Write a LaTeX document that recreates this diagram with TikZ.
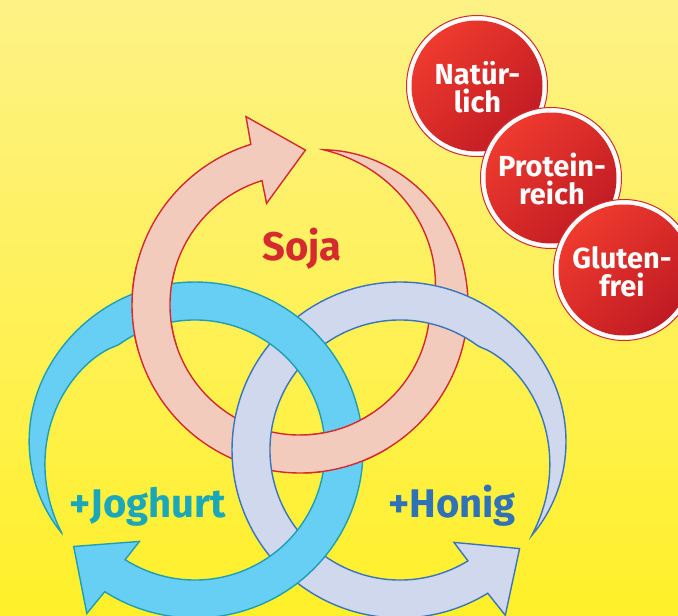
\documentclass[tikz,border=0pt]{standalone}
\usepackage{fontspec}
\setmainfont{Fira Sans}
\definecolor{bgtop}{HTML}{FEF286}
\definecolor{bgbot}{HTML}{FFF02A}
\definecolor{pinkfill}{HTML}{F3CBBC}
\definecolor{pinkline}{HTML}{D42A2E}
\definecolor{bluefill}{HTML}{67CFF4}
\definecolor{blueline}{HTML}{1E9FB5}
\definecolor{greyfill}{HTML}{CFD8EC}
\definecolor{greyline}{HTML}{3A74BC}
\definecolor{sojared}{HTML}{D52B2F}
\definecolor{jogteal}{HTML}{1AA7BA}
\definecolor{honblue}{HTML}{2F72B8}
\definecolor{badgelight}{HTML}{EF3A2E}
\definecolor{badgedark}{HTML}{C01B23}
\newcommand{\ringarrow}[4]{%
  \filldraw[fill=#3, draw=#4, line width=1.4pt, line join=miter]
    plot[domain=0:334.5, samples=160, variable=\t]
      ({#1+(#2)*\t}:{168-11*(max(0.0001,1-min(1,\t/60)))^2})
    -- ({#1+(#2)*335.5}:196)
    -- ({#1+(#2)*353.5}:155)
    -- ({#1+(#2)*333.3}:107)
    -- plot[domain=334.5:0, samples=160, variable=\t]
      ({#1+(#2)*\t}:{130+27*(max(0.0001,1-min(1,\t/85)))^0.7})
    -- cycle;
}
\newcommand{\badgedisc}[1]{%
  \draw[fill=white, draw=pinkline, line width=1pt] (#1) circle[radius=70.5];
  \shade[top color=badgelight, bottom color=badgedark, shading angle=45] (#1) circle[radius=65.5];
}
\tikzset{
  badgetext/.style={text=white, font=\bfseries\fontsize{29}{28}\selectfont, align=center, inner sep=0pt},
  biglabel/.style={font=\bfseries\fontsize{40}{40}\selectfont, anchor=base, inner sep=0pt}
}
\begin{document}
\begin{tikzpicture}[x=1pt,y=-1pt]
\useasboundingbox (0,0) rectangle (678,616);
\shade[top color=bgtop, bottom color=bgbot] (0,0) rectangle (678,616);
% rings: pink, grey, blue, then pink again over blue crossings
\begin{scope}[shift={(300,305)}, yscale=-1]
  \ringarrow{81.5}{-1}{pinkfill}{pinkline}
\end{scope}
\begin{scope}[shift={(400,450)}, yscale=-1]
  \ringarrow{-33}{1}{greyfill}{greyline}
\end{scope}
\begin{scope}[shift={(195,450)}, yscale=-1]
  \ringarrow{212}{-1}{bluefill}{blueline}
\end{scope}
\begin{scope}
  \clip (152,308) circle[radius=45] (343,447) circle[radius=45];
  \begin{scope}[shift={(300,305)}, yscale=-1]
    \ringarrow{81.5}{-1}{pinkfill}{pinkline}
  \end{scope}
\end{scope}
% labels
\node[biglabel, text=sojared] (soja) at (302,260) {Soja};
\node[biglabel, text=jogteal] (jog) at (148,517) {+Joghurt};
\node[biglabel, text=honblue] (hon) at (452,517) {+Honig};
% badges
\badgedisc{477,86}
\node[badgetext] (nat) at (477.5,87) {Natür-\\lich};
\badgedisc{551,178}
\node[badgetext] (pro) at (552,179) {Protein-\\reich};
\badgedisc{624,270}
\node[badgetext] (glu) at (622,272) {Gluten-\\frei};
\end{tikzpicture}
\end{document}
